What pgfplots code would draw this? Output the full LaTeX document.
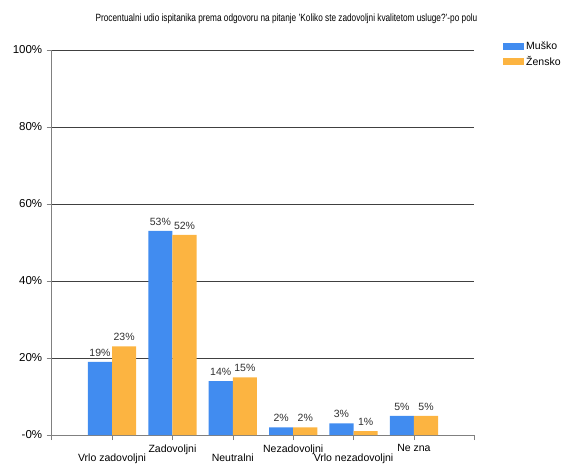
\documentclass[border=0pt]{standalone}
\usepackage{fontspec}
\setmainfont{Liberation Sans}
\usepackage{pgfplots}
\pgfplotsset{compat=1.18}
\definecolor{cblue}{HTML}{418CF0}
\definecolor{corange}{HTML}{FCB441}
\definecolor{lbl}{HTML}{303030}
\begin{document}
\begin{tikzpicture}[x=1pt,y=1pt]
\useasboundingbox (-51.7,-36) rectangle (518.3,435);
\begin{axis}[
  at={(0,0)}, anchor=south west,
  scale only axis, width=422.6pt, height=385pt,
  xmin=0, xmax=7, ymin=0, ymax=100,
  /pgf/number format/assume math mode=true,
  axis lines*=left,
  axis line style={-, draw=gray},
  xtick={0,1,2,3,4,5,6,7},
  xticklabels={,{\raisebox{-17pt}{Vrlo zadovoljni}},Zadovoljni,{\raisebox{-17pt}{Neutralni}},Nezadovoljni,{\raisebox{-17pt}{Vrlo nezadovoljni}},Ne zna,},
  ytick={0,20,40,60,80,100},
  yticklabels={-0\%,20\%,40\%,60\%,80\%,100\%},
  tick align=outside,
  major tick length=5pt,
  tick style={draw=gray, thin},
  ymajorgrids,
  grid style={draw=black!75, line width=0.8pt},
  ticklabel style={font=\fontsize{10.5}{12}\selectfont, text=black},
  xticklabel style={anchor=north, yshift=-1pt},
  yticklabel style={xshift=-1pt, font=\fontsize{11.5}{13}\selectfont},
  ybar, bar width=0.4, bar shift auto,
  ybar=0pt,
  nodes near coords={\pgfmathprintnumber{\pgfplotspointmeta}\%},
  every node near coord/.append style={font=\fontsize{10.5}{12}\selectfont, text=lbl, yshift=2pt},
  legend style={at={(1.068,1.026)}, anchor=north west, draw=none, fill=none,
    font=\fontsize{10.5}{12}\selectfont, row sep=1pt, inner sep=0pt,
    /tikz/every even column/.append style={column sep=3pt}},
  legend image code/.code={\fill[#1] (0pt,-3.5pt) rectangle (21pt,3.5pt);},
  legend cell align=left,
  clip=false,
]
\addplot[draw=none, fill=cblue] coordinates {(1,19) (2,53) (3,14) (4,2) (5,3) (6,5)};
\addplot[draw=none, fill=corange] coordinates {(1,23) (2,52) (3,15) (4,2) (5,1) (6,5)};
\legend{Muško,Žensko}
\end{axis}
\node[font=\fontsize{10.5}{12}\selectfont, inner sep=0pt] at (234.8,416) {\scalebox{0.785}[1]{Procentualni udio ispitanika prema odgovoru na pitanje 'Koliko ste zadovoljni kvalitetom usluge?'-po polu}};
\end{tikzpicture}
\end{document}
